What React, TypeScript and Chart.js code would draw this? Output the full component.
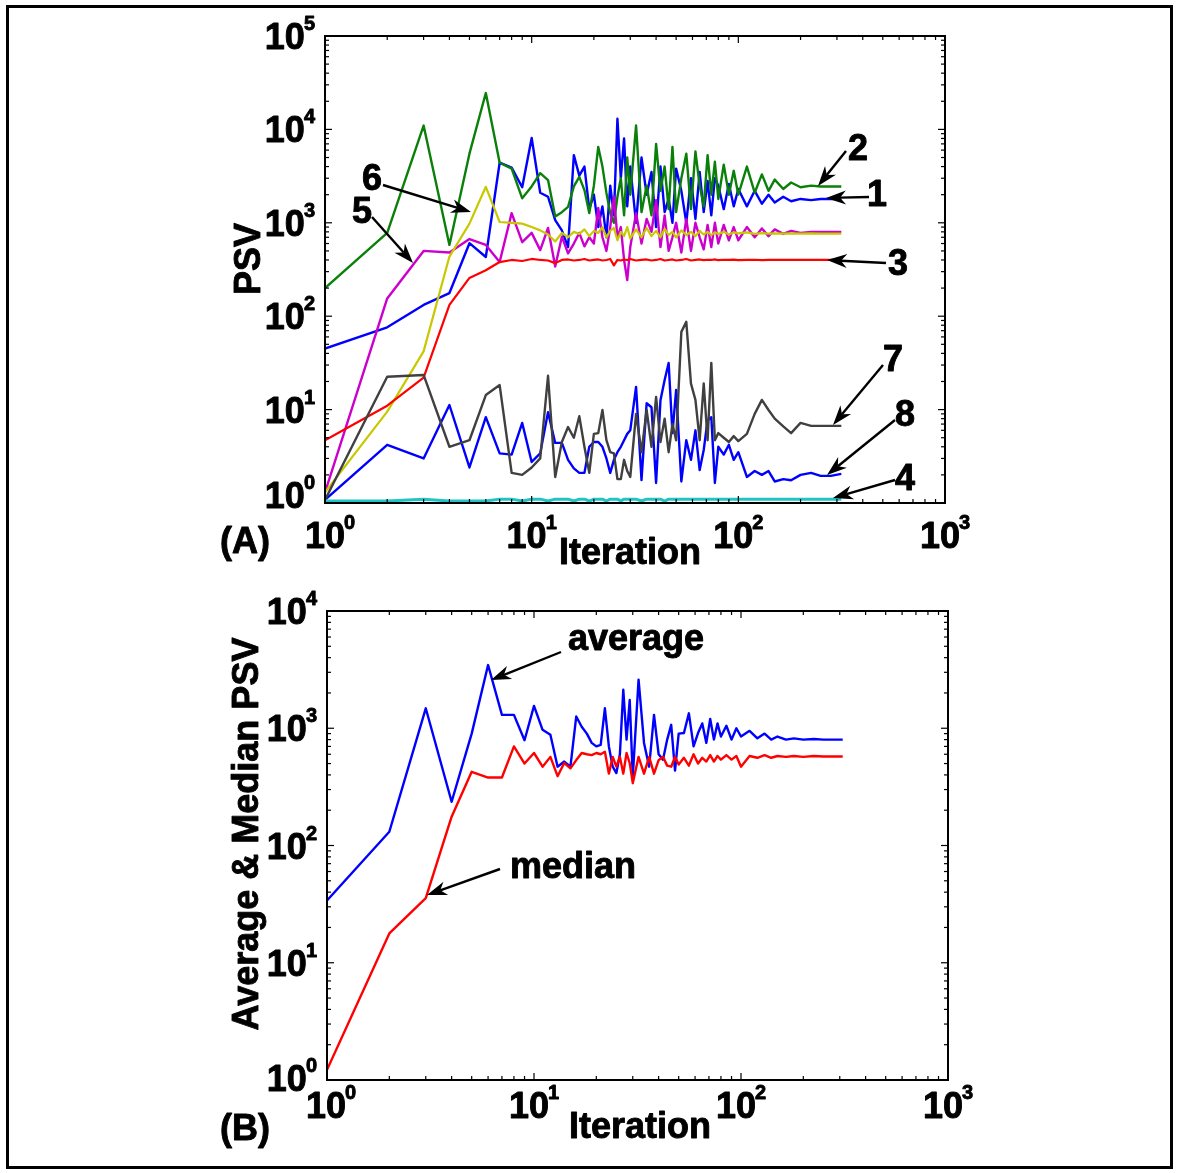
import React, { useEffect, useRef } from "react";
import { Chart, registerables } from "chart.js";
Chart.register(...registerables);

// ---------------- DATA ----------------
const iterA = [1,2,3,4,5,6,7,8,9,10,11,12,13,14,15,16,17,18,19,20,21,22,23,24,25,26,27,28,29,30,32,34,36,38,40,42,44,46,48,50,53,56,59,62,65,68,71,74,77,80,85,90,95,100,110,120,130,140,150,165,180,200,225,250,280,315];

const psv1 = [45,76,132,177,605,430,4400,3900,2400,8100, 2100,1900,1070,830,550,5300,3200,4000,1400,2000, 900,1500,700,2500,1200,13000,3000,8000,1500,4000, 1000,5000,2000,3500,900,4000,1300,1800,1000,3800, 2200,1000,3000,1100,3500,1300,2800,1200,3000,2500, 1400,2600,1500,2300, 1500,2200,1600,2000,1650, 1900,1700,1800,1750,1800,1800,1800];

const psv2 = [200,780,11000,580,5500,24500,4400,3800,1830,2450, 3400,2870,1170,1300,1480,2450,3100,2240,1270,2500, 6500,4000,2090,1270,1000,1900,3000,1200,5000,2000, 11000,1300,2500,1200,7000,2200,4000,1400,6500,1300, 3000,5500,1400,5800,2500,1500,5300,2000,4500,1800, 4200,2000,3600,2000, 4000,2100,3300,2200,2900, 2300,2700,2400,2500,2450,2450,2450];

const psv3 = [4.7,11,22,132,257,310,380,400,390,410, 400,395,370,400,405,395,400,410,395,400, 405,395,400,410,350,400,395,405,400,410, 395,400,405,395,400,410,395,400,405,395, 400,410,395,400,405,398,402,400,405,398, 402,400,404,398, 400,402,398,400,400, 400,400,400,400,400,400,400];

const psv4 = [1.05,1.05,1.1,1.05,1.05,1.05,1.1,1.1,1.05,1.1, 1.1,1.05,1.1,1.1,1.1,1.05,1.1,1.1,1.05,1.1, 1.1,1.1,1.05,1.1,1.1,1.1,1.05,1.1,1.1,1.1, 1.1,1.05,1.1,1.1,1.1,1.1,1.05,1.1,1.1,1.1, 1.1,1.1,1.1,1.1,1.1,1.1,1.1,1.1,1.1,1.1, 1.1,1.1,1.1,1.1, 1.1,1.1,1.1,1.1,1.1, 1.1,1.1,1.1,1.1,1.1,1.1,1.1];

const psv5 = [1.3,155,500,480,670,580,380,1270,620,780, 510,880,340,710,470,600,780,560,700,600, 1440,700,500,900,1900,700,900,400,244,550, 1270,600,1100,800,1750,550,1200,500,700,1000, 480,1100,500,1000,700,520,950,550,1000,600, 950,650,900,650, 900,700,870,720,850, 760,820,780,800,800,800,800];

const psv6 = [1.3,9.5,42,435,980,2430,1020,1000,980,900, 830,750,630,780,700,800,760,850,720,820, 780,900,700,820,880,650,800,720,900,680, 850,700,880,720,820,700,860,740,800,700, 830,740,800,720,820,750,800,740,790,760, 800,750,790,770, 790,760,775,765,770, 765,770,765,770,765,765,765];

const psv7 = [1.08,22.5,23.5,4.0,4.7,14.3,18.3,2.1,2.0,2.4, 3.0,23,1.9,4.5,6.5,5.0,8.5,4.0,2.1,5.5, 5.6,9.9,4.7,3.5,3.4,1.8,1.8,2.9,2.2,1.9, 9.0,3.5,9.9,4.0,13.7,4.5,8.0,3.5,7.0,4.7, 68,87,19,12.7,4.7,19,4.7,31.6,4.7,5.6, 5.0,4.5,5.2,4.6, 5.5,9,12.7,9.9,8, 6.6,5.6,7.2,6.7,6.7,6.7,6.7];

const psv8 = [1.08,4.2,3.0,11.2,2.4,8.3,3.4,3.3,7.2,2.75, 3.4,9.4,4.4,4.4,2.9,2.35,2.1,2.1,4.0,4.5, 4.5,4.0,3.0,2.1,2.9,3.5,4.0,4.7,5.5,6.0, 17.5,1.76,11.7,10.6,1.64,12.6,20.7,31.6,5.6,16.2, 1.7,4.7,2.9,6.0,2.25,3.7,7.7,8.3,1.64,4.0, 3.3,4.2,2.9,3.5, 1.9,2.2,2.0,2.2,1.7, 1.8,1.75,2.0,2.1,1.95,1.95,2.05];

const iterB = [1,2,3,4,5,6,7,8,9,10,11,12,13,14,15,16,17,18,19,20,21,22,23,24,25,26,27,28,29,30,32,34,36,38,40,42,44,46,48,50,53,56,59,62,65,68,71,74,77,80,85,90,95,100,110,120,130,140,150,165,180,200,225,250,280,310];

const avgPSV = [34,131,1480,236,900,3460,1300,1300,790,1550, 970,880,470,520,470,1260,1030,900,750,700, 720,1480,700,470,415,600,2130,800,1740,385, 2600,750,470,1300,600,540,800,1070,435,900, 910,1340,700,910,1100,750,1200,800,1100,850, 1050,800,1000,850, 950,820,900,800,850, 800,820,800,810,800,800,800];

const medPSV = [1.22,17.8,35.5,176,425,380,380,700,500,615, 470,570,390,505,455,535,615,600,590,615, 600,630,410,570,470,570,410,615,505,340, 570,410,570,410,535,570,480,470,570,490, 560,480,600,500,560,520,590,520,580,540, 590,540,580,470, 580,560,590,560,580, 570,580,570,580,575,575,575];

const xTickExp = [0, 1, 2, 3];
const yTickExpA = [0, 1, 2, 3, 4, 5];
const yTickExpB = [0, 1, 2, 3, 4];

// ---------------- DRAW HELPERS ----------------
const FONT = '"Liberation Sans", Arial, Helvetica, sans-serif';
const BIG = `bold 36px ${FONT}`;
const SUP = `bold 20px ${FONT}`;

function pts(xs: number[], ys: number[]) {
  return xs.map((x, i) => ({ x, y: ys[i] }));
}

function heavyText(ctx: CanvasRenderingContext2D, t: string, x: number, y: number) {
  ctx.fillText(t, x, y);
  ctx.lineWidth = 0.9;
  ctx.strokeStyle = "#000";
  ctx.lineJoin = "round";
  ctx.strokeText(t, x, y);
}

function drawArrow(ctx: CanvasRenderingContext2D, x1: number, y1: number, x2: number, y2: number) {
  const a = Math.atan2(y2 - y1, x2 - x1);
  const L = 20, W = 7, N = 14;
  const c = Math.cos(a), s = Math.sin(a);
  const bx = x2 - L * c, by = y2 - L * s;
  const nx = x2 - N * c, ny = y2 - N * s;
  ctx.beginPath();
  ctx.moveTo(x1, y1);
  ctx.lineTo(nx, ny);
  ctx.lineWidth = 2.4;
  ctx.strokeStyle = "#000";
  ctx.stroke();
  ctx.beginPath();
  ctx.moveTo(x2, y2);
  ctx.lineTo(bx + W * s, by - W * c);
  ctx.lineTo(nx, ny);
  ctx.lineTo(bx - W * s, by + W * c);
  ctx.closePath();
  ctx.fillStyle = "#000";
  ctx.fill();
}

function drawPow(ctx: CanvasRenderingContext2D, exp: number, x: number, cy: number, align: "center" | "right") {
  ctx.font = BIG;
  const w1 = ctx.measureText("10").width;
  ctx.font = SUP;
  const w2 = ctx.measureText(String(exp)).width;
  const total = w1 + w2 - 1;
  const x0 = align === "center" ? x - total / 2 : x - total;
  ctx.textAlign = "left";
  ctx.textBaseline = "alphabetic";
  ctx.fillStyle = "#000";
  ctx.font = BIG;
  heavyText(ctx, "10", x0, cy + 13);
  ctx.font = SUP;
  heavyText(ctx, String(exp), x0 + w1 - 1, cy - 6);
}

type TextItem = { t: string; x: number; y: number; align?: CanvasTextAlign; rot?: boolean };
type Decor = {
  yExp: number[];
  xLabelDy: number;
  x0Shift: number;
  y0Shift: number;
  texts: TextItem[];
  arrows: number[][];
};

function makeDecor(d: Decor) {
  return {
    id: "decor",
    afterDraw(chart: any) {
      const ctx: CanvasRenderingContext2D = chart.ctx;
      const { left, right, top, bottom } = chart.chartArea;
      const xs = chart.scales.x;
      const ys = chart.scales.y;
      ctx.save();
      // frame
      ctx.strokeStyle = "#000";
      ctx.lineWidth = 2;
      ctx.strokeRect(left, top, right - left, bottom - top);
      // inward ticks
      ctx.lineWidth = 1.2;
      const line = (a: number, b: number, c: number, e: number) => {
        ctx.beginPath();
        ctx.moveTo(a, b);
        ctx.lineTo(c, e);
        ctx.stroke();
      };
      const xMaxE = xTickExp[xTickExp.length - 1];
      for (let e = 0; e < xMaxE; e++) {
        for (let m = 1; m <= 9; m++) {
          const p = xs.getPixelForValue(m * Math.pow(10, e));
          const len = m === 1 ? 7 : 4;
          line(p, bottom, p, bottom - len);
          line(p, top, p, top + len);
        }
      }
      const yMaxE = d.yExp[d.yExp.length - 1];
      for (let e = 0; e < yMaxE; e++) {
        for (let m = 1; m <= 9; m++) {
          const p = ys.getPixelForValue(m * Math.pow(10, e));
          const len = m === 1 ? 7 : 4;
          line(left, p, left + len, p);
          line(right, p, right - len, p);
        }
      }
      // tick labels
      for (const e of xTickExp) {
        const p = xs.getPixelForValue(Math.pow(10, e)) + (e === 0 ? d.x0Shift : 0);
        drawPow(ctx, e, p, bottom + d.xLabelDy, "center");
      }
      for (const e of d.yExp) {
        const p = ys.getPixelForValue(Math.pow(10, e)) + (e === 0 ? d.y0Shift : 0);
        drawPow(ctx, e, left - 10, p, "right");
      }
      // texts
      ctx.fillStyle = "#000";
      ctx.font = BIG;
      for (const t of d.texts) {
        ctx.save();
        ctx.textBaseline = "alphabetic";
        ctx.textAlign = t.align || "center";
        if (t.rot) {
          ctx.translate(t.x, t.y);
          ctx.rotate(-Math.PI / 2);
          heavyText(ctx, t.t, 0, 0);
        } else {
          heavyText(ctx, t.t, t.x, t.y);
        }
        ctx.restore();
      }
      for (const a of d.arrows) drawArrow(ctx, a[0], a[1], a[2], a[3]);
      ctx.restore();
    },
  };
}

function ds(label: string, xs: number[], ys: number[], color: string, width = 2) {
  return {
    label,
    data: pts(xs, ys),
    borderColor: color,
    backgroundColor: color,
    borderWidth: width,
    pointRadius: 0,
    tension: 0,
    fill: false,
  };
}

function baseOptions(padding: any, yMax: number) {
  return {
    animation: false,
    responsive: false,
    devicePixelRatio: 1,
    layout: { padding },
    plugins: { legend: { display: false }, tooltip: { enabled: false } },
    elements: { line: { borderJoinStyle: "round" as const } },
    scales: {
      x: { type: "logarithmic" as const, min: 1, max: 1000, display: false },
      y: { type: "logarithmic" as const, min: 1, max: yMax, display: false },
    },
  };
}

export default function App() {
  const refA = useRef<HTMLCanvasElement>(null);
  const refB = useRef<HTMLCanvasElement>(null);

  useEffect(() => {
    const decorA = makeDecor({
      yExp: yTickExpA,
      xLabelDy: 32,
      x0Shift: 5,
      y0Shift: -8,
      texts: [
        { t: "PSV", x: 260, y: 259, rot: true },
        { t: "Iteration", x: 630, y: 564 },
        { t: "(A)", x: 245, y: 553 },
        { t: "2", x: 858, y: 160 },
        { t: "1", x: 877, y: 206 },
        { t: "3", x: 898, y: 275 },
        { t: "7", x: 893, y: 371 },
        { t: "8", x: 905, y: 426 },
        { t: "4", x: 905, y: 490 },
        { t: "6", x: 372, y: 190 },
        { t: "5", x: 362, y: 223 },
      ],
      arrows: [
        [846, 151, 818, 186],
        [869, 197, 826, 198],
        [886, 263, 827, 260],
        [883, 365, 833, 425],
        [895, 420, 827, 475],
        [895, 480, 833, 498],
        [383, 185, 471, 212],
        [372, 217, 413, 263],
      ],
    });
    const chartA = new Chart(refA.current as HTMLCanvasElement, {
      type: "line",
      data: {
        datasets: [
          ds("4", iterA, psv4, "#20c4c4", 3),
          ds("7", iterA, psv7, "#404040", 2.4),
          ds("8", iterA, psv8, "#0000ff", 2.4),
          ds("3", iterA, psv3, "#ff0000", 2.2),
          ds("6", iterA, psv6, "#c8c800", 2.2),
          ds("5", iterA, psv5, "#cc00cc", 2.4),
          ds("2", iterA, psv2, "#0a800a", 2.4),
          ds("1", iterA, psv1, "#0000ff", 2.4),
        ],
      },
      options: baseOptions({ left: 325, top: 36, right: 237, bottom: 82 }, 100000) as any,
      plugins: [decorA],
    });

    const decorB = makeDecor({
      yExp: yTickExpB,
      xLabelDy: 25,
      x0Shift: 4,
      y0Shift: -2,
      texts: [
        { t: "Average & Median PSV", x: 258, y: 249, rot: true },
        { t: "Iteration", x: 640, y: 553 },
        { t: "(B)", x: 245, y: 555 },
        { t: "average", x: 568, y: 65, align: "left" },
        { t: "median", x: 510, y: 293, align: "left" },
      ],
      arrows: [
        [561, 67, 491, 95],
        [500, 284, 427, 310],
      ],
    });
    const chartB = new Chart(refB.current as HTMLCanvasElement, {
      type: "line",
      data: {
        datasets: [
          ds("median", iterB, medPSV, "#ff0000", 2.4),
          ds("average", iterB, avgPSV, "#0000ff", 2.4),
        ],
      },
      options: baseOptions({ left: 327, top: 26, right: 234, bottom: 93 }, 10000) as any,
      plugins: [decorB],
    });

    return () => {
      chartA.destroy();
      chartB.destroy();
    };
  }, []);

  return (
    <div style={{ position: "absolute", left: 0, top: 0, width: 1182, height: 1173, background: "#fff" }}>
      <div
        style={{
          position: "absolute",
          left: 6,
          top: 5,
          width: 1167,
          height: 1164,
          border: "3px solid #000",
          boxSizing: "border-box",
        }}
      />
      <canvas ref={refA} width={1182} height={585} style={{ position: "absolute", left: 0, top: 0 }} />
      <canvas ref={refB} width={1182} height={588} style={{ position: "absolute", left: 0, top: 585 }} />
    </div>
  );
}
